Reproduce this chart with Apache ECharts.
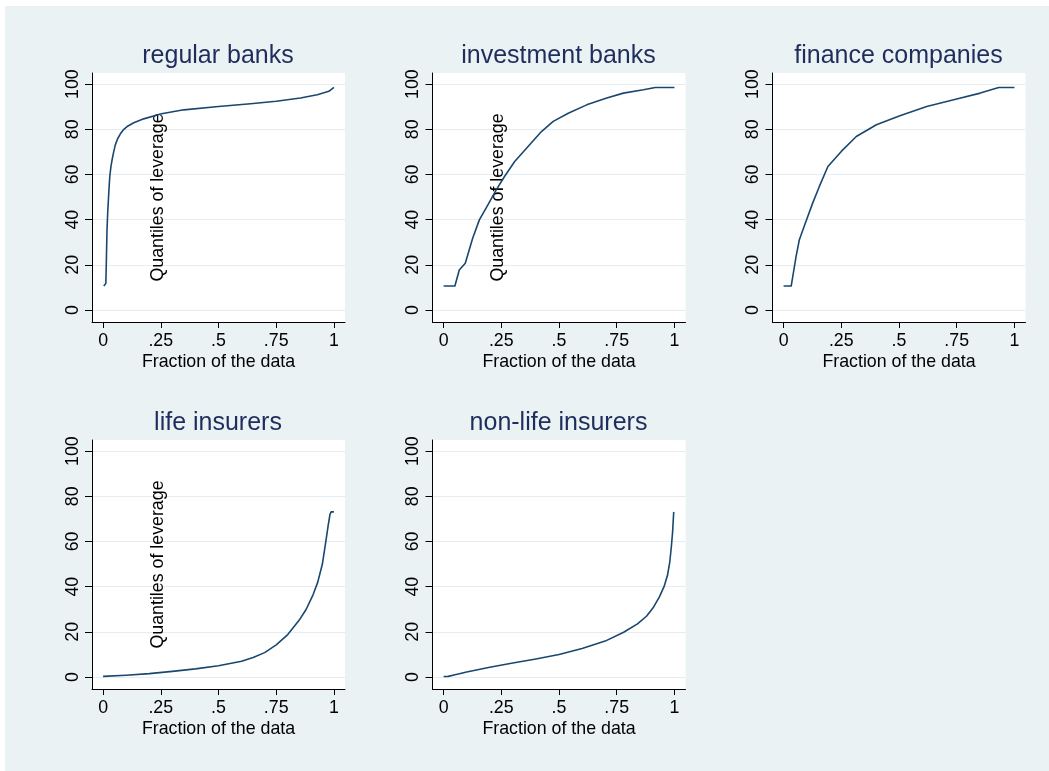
<!DOCTYPE html>
<html>
<head>
<meta charset="utf-8">
<title>Quantiles of leverage by sector</title>
<script src="https://cdn.jsdelivr.net/npm/echarts@6/dist/echarts.min.js"></script>
<style>
  html, body { margin: 0; padding: 0; background: #ffffff; }
  #chart { width: 1049px; height: 771px; }
</style>
</head>
<body>
<div id="chart"></div>
<script>
// Panel titles, in drawing order (row by row)
const panelTitles = ['regular banks', 'investment banks', 'finance companies', 'life insurers', 'non-life insurers'];

// Tick positions on both axes
const xTicks = [0, 0.25, 0.5, 0.75, 1];
const yTicks = [0, 20, 40, 60, 80, 100];

// Quantile curves: fraction of the data vs. leverage quantile
const regularFrac = [0.003, 0.012, 0.014, 0.017, 0.020, 0.025, 0.029, 0.034, 0.039, 0.046, 0.053, 0.063, 0.075, 0.090, 0.104, 0.133, 0.176, 0.253, 0.350, 0.500, 0.639, 0.750, 0.855, 0.928, 0.978, 1.000];
const regularLev  = [10.6, 11.8, 20.7, 35.5, 43.0, 52.5, 59.1, 63.5, 66.5, 70.0, 73.1, 75.8, 78.0, 80.0, 81.2, 82.9, 84.6, 86.9, 88.6, 90.1, 91.3, 92.4, 93.8, 95.3, 96.8, 98.5];

const investFrac = [0.000, 0.049, 0.068, 0.094, 0.126, 0.155, 0.192, 0.228, 0.264, 0.308, 0.366, 0.424, 0.475, 0.540, 0.620, 0.707, 0.779, 0.866, 0.917, 1.000];
const investLev  = [10.6, 10.6, 17.7, 20.7, 31.8, 39.9, 46.5, 53.2, 59.1, 65.7, 72.4, 79.0, 83.5, 87.1, 90.8, 93.8, 96.0, 97.5, 98.5, 98.5];

const financeFrac = [0.000, 0.033, 0.054, 0.068, 0.094, 0.126, 0.155, 0.192, 0.250, 0.315, 0.402, 0.504, 0.620, 0.750, 0.852, 0.932, 1.000];
const financeLev  = [10.6, 10.6, 23.6, 31.0, 38.4, 47.3, 54.7, 63.5, 70.2, 76.8, 82.0, 86.0, 90.1, 93.4, 96.0, 98.5, 98.5];

const lifeFrac = [0.000, 0.100, 0.200, 0.300, 0.400, 0.500, 0.600, 0.650, 0.700, 0.750, 0.800, 0.850, 0.880, 0.910, 0.930, 0.950, 0.965, 0.975, 0.983, 0.988, 1.000];
const lifeLev  = [0.3, 0.8, 1.5, 2.5, 3.6, 5.0, 7.0, 8.6, 10.8, 14.2, 18.8, 25.2, 30.0, 36.5, 42.0, 50.0, 60.0, 67.0, 72.0, 73.1, 73.1];

const nonlifeFrac = [0.000, 0.020, 0.050, 0.100, 0.200, 0.300, 0.400, 0.500, 0.600, 0.700, 0.780, 0.840, 0.880, 0.910, 0.935, 0.955, 0.970, 0.980, 0.987, 0.992, 0.997];
const nonlifeLev  = [0.2, 0.3, 1.0, 2.2, 4.3, 6.2, 8.0, 10.0, 12.6, 15.9, 19.8, 23.5, 27.0, 31.0, 35.5, 40.0, 45.0, 51.0, 58.0, 64.0, 73.1];

const curves = [
  { frac: regularFrac, lev: regularLev, ytitle: true },
  { frac: investFrac,  lev: investLev,  ytitle: true },
  { frac: financeFrac, lev: financeLev, ytitle: false },
  { frac: lifeFrac,    lev: lifeLev,    ytitle: true },
  { frac: nonlifeFrac, lev: nonlifeLev, ytitle: false }
];

const FONT = '"Liberation Sans", Arial, sans-serif';
const INK = '#000000';
const NAVY = '#1a476f';
const TITLE_INK = '#1e2d5c';
const TEXT_SIZE = 17.8;

// Plot-region layout: three columns, two rows
const colLeft = [92, 432.5, 772.5];
const rowTop = [73, 440];
const plotW = 253, plotH = 249;

const grids = [], xAxes = [], yAxes = [], series = [], titles = [];

curves.forEach((c, i) => {
  const col = i % 3, row = Math.floor(i / 3);
  grids.push({
    left: colLeft[col], top: rowTop[row], width: plotW, height: plotH,
    show: true, backgroundColor: '#ffffff', borderWidth: 0
  });
  xAxes.push({
    type: 'value', gridIndex: i, min: -0.048, max: 1.048,
    axisLine: { show: true, onZero: false, lineStyle: { color: INK, width: 1 } },
    axisTick: { show: true, customValues: xTicks, length: 6, lineStyle: { color: INK } },
    axisLabel: {
      customValues: xTicks, margin: 10, fontSize: TEXT_SIZE, fontFamily: FONT, color: INK,
      formatter: v => (v === 0 || v === 1) ? String(v) : String(v).replace(/^0/, '')
    },
    splitLine: { show: false },
    name: 'Fraction of the data', nameLocation: 'middle', nameGap: 31,
    nameTextStyle: { fontSize: TEXT_SIZE, fontFamily: FONT, color: INK }
  });
  yAxes.push({
    type: 'value', gridIndex: i, min: -5.3, max: 104.9,
    axisLine: { show: true, onZero: false, lineStyle: { color: INK, width: 1 } },
    axisTick: { show: true, customValues: yTicks, length: 7, lineStyle: { color: INK } },
    axisLabel: {
      customValues: yTicks, rotate: 90, margin: 10, fontSize: TEXT_SIZE, fontFamily: FONT, color: INK
    },
    splitLine: { show: true, lineStyle: { color: '#e4eef0', width: 1 } },
    name: c.ytitle ? 'Quantiles of leverage' : '',
    nameLocation: 'middle', nameRotate: 90, nameGap: -75,
    nameTextStyle: { fontSize: TEXT_SIZE, fontFamily: FONT, color: INK }
  });
  series.push({
    type: 'line', xAxisIndex: i, yAxisIndex: i,
    data: c.frac.map((f, k) => [f, c.lev[k]]),
    showSymbol: false, symbol: 'none', smooth: false,
    lineStyle: { color: NAVY, width: 1.6, join: 'round' },
    silent: true, animation: false
  });
  titles.push({
    text: panelTitles[i], padding: 0,
    left: colLeft[col] + plotW / 2 - 0.5, top: rowTop[row] - 29, textAlign: 'center',
    textStyle: { fontSize: 25, fontWeight: 'normal', fontFamily: FONT, color: TITLE_INK }
  });
});

const chart = echarts.init(document.getElementById('chart'), null, { renderer: 'canvas' });
chart.setOption({
  backgroundColor: '#eaf2f3',
  animation: false,
  title: titles,
  grid: grids,
  xAxis: xAxes,
  yAxis: yAxes,
  series: series,
  graphic: [
    { type: 'rect', shape: { x: 0, y: 0, width: 5, height: 771 }, style: { fill: '#ffffff' }, silent: true },
    { type: 'rect', shape: { x: 0, y: 0, width: 1049, height: 6 }, style: { fill: '#ffffff' }, silent: true }
  ]
});
</script>
</body>
</html>
